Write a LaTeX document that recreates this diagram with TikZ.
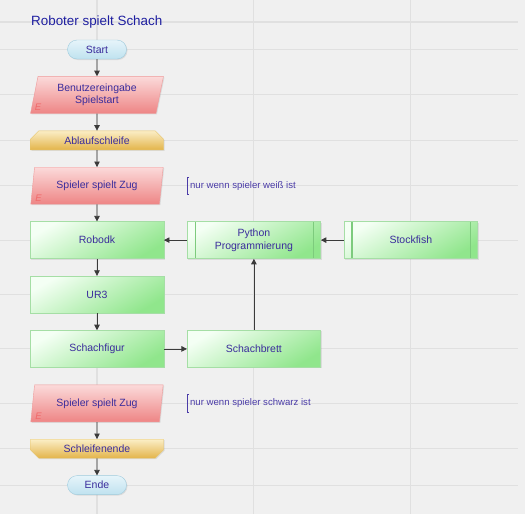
\documentclass[tikz,border=0pt]{standalone}
\usepackage{fontspec}
\setmainfont{Liberation Sans}
\usetikzlibrary{positioning, arrows.meta, shapes.geometric, shapes.misc, backgrounds, shadows}

\definecolor{txtcol}{HTML}{3A2C9C}
\definecolor{titlecol}{HTML}{1E1EA0}
\definecolor{notecol}{HTML}{4B3CA8}
\definecolor{arrowcol}{HTML}{3A3A3A}
\definecolor{gridcol}{HTML}{E0E0E0}
\definecolor{bgcol}{HTML}{F0F0F0}
\definecolor{termtop}{HTML}{E6F4FA}
\definecolor{termbot}{HTML}{BFE2EF}
\definecolor{termline}{HTML}{9FCBDD}
\definecolor{intop}{HTML}{FBDADA}
\definecolor{inbot}{HTML}{EE8585}
\definecolor{inline}{HTML}{EE9A9A}
\definecolor{looptop}{HTML}{FBEEC6}
\definecolor{loopbot}{HTML}{E3B44A}
\definecolor{loopline}{HTML}{E6C46A}
\definecolor{proctop}{HTML}{F4FFF4}
\definecolor{procbot}{HTML}{90E68C}
\definecolor{procline}{HTML}{A5DEA5}
\definecolor{subline}{HTML}{7DCB7D}
\definecolor{emarkcol}{HTML}{F06A6A}

\begin{document}
\begin{tikzpicture}[
			x=1pt, y=1pt,
			node distance=17pt and 23pt,
			base/.style={font=\fontsize{10.5}{12.5}\selectfont, text=txtcol, align=center, inner sep=1pt,
				drop shadow={shadow xshift=1pt, shadow yshift=-1pt, opacity=0.18}},
			terminal/.style={base, rounded rectangle, minimum width=61pt, minimum height=19pt,
				draw=termline, top color=termtop, bottom color=termbot},
			inout/.style={base, trapezium, trapezium left angle=78, trapezium right angle=102,
				trapezium stretches=true, minimum width=133pt, minimum height=37pt,
				draw=inline, top color=intop, bottom color=inbot,
				append after command={node[emark] at ([xshift=3.5pt,yshift=1.5pt]\tikzlastnode.bottom left corner) {E}}},
			emark/.style={anchor=south west, inner sep=1pt, text=emarkcol,
				font=\fontsize{9.5}{9.5}\selectfont\itshape},
			loopbegin/.style={base, chamfered rectangle, chamfered rectangle corners={north west, north east},
				chamfered rectangle xsep=9pt, minimum width=133pt, minimum height=19pt,
				draw=loopline, top color=looptop, bottom color=loopbot},
			loopend/.style={loopbegin, chamfered rectangle corners={south west, south east}},
			process/.style={base, rectangle, minimum width=133.5pt, minimum height=37pt,
				draw=procline, top color=proctop, bottom color=procbot, shading angle=30},
			subproc/.style={process, path picture={
				\draw[subline, line width=1.2pt]
					([xshift=8pt]path picture bounding box.north west) -- ([xshift=8pt]path picture bounding box.south west)
					([xshift=-7pt]path picture bounding box.north east) -- ([xshift=-7pt]path picture bounding box.south east);}},
			note/.style={font=\fontsize{9.6}{11}\selectfont, text=notecol, anchor=west, inner sep=0pt,
				inner xsep=3pt, minimum height=18pt, path picture={
				\draw[notecol, line width=0.8pt]
					([xshift=2pt,yshift=-0.4pt]path picture bounding box.north west) -- ([xshift=0.4pt,yshift=-0.4pt]path picture bounding box.north west)
					-- ([xshift=0.4pt,yshift=0.4pt]path picture bounding box.south west) -- ([xshift=2pt,yshift=0.4pt]path picture bounding box.south west);}},
			title/.style={font=\fontsize{13.4}{15}\selectfont, text=titlecol, anchor=west, inner sep=0pt},
			arrow/.style={-{Triangle[length=5.5pt,width=5.5pt]}, draw=arrowcol, line width=0.8pt},
			gridline/.style={draw=gridcol, line width=1.1pt}
			]
			\useasboundingbox (0,0) rectangle (525,-514);

			% Title
			\node[title] (title) at (31,-22) {Roboter spielt Schach};

			% Main column
			\node[terminal] (start) at (97,-49.5) {Start};
			\node[inout, below=of start] (eingabe) {Benutzereingabe\\Spielstart};
			\node[loopbegin, below=of eingabe] (schleife) {Ablaufschleife};
			\node[inout, below=of schleife] (zugweiss) {Spieler spielt Zug};
			\node[process, below=of zugweiss] (robodk) {Robodk};
			\node[process, below=of robodk] (ur3) {UR3};
			\node[process, below=of ur3] (figur) {Schachfigur};
			\node[inout, below=of figur] (zugschwarz) {Spieler spielt Zug};
			\node[loopend, below=of zugschwarz] (ende_schleife) {Schleifenende};
			\node[terminal, below=of ende_schleife] (ende) {Ende};

			% Right side
			\node[subproc, right=of robodk] (python) {Python\\Programmierung};
			\node[subproc, right=of python] (stockfish) {Stockfish};
			\node[process, right=of figur] (brett) {Schachbrett};

			% Notes
			\node[note] (note_weiss) at (zugweiss -| python.west) {nur wenn spieler weiß ist};
			\node[note] (note_schwarz) at (zugschwarz -| brett.west) {nur wenn spieler schwarz ist};

			% Grid
			\begin{scope}[on background layer]
				\fill[bgcol] (0,0) rectangle (525,-514);
				\coordinate (gl) at (0,0);
				\coordinate (gr) at (518,0);
				\coordinate (gt) at (0,0);
				\coordinate (gb) at (0,-514);
				\foreach \n in {title, start, eingabe, schleife, zugweiss, robodk, ur3, figur, zugschwarz, ende_schleife, ende}
					\draw[gridline] (gl |- \n.west) -- (gr |- \n.west);
				\foreach \n in {start, python, stockfish}
					\draw[gridline] (gt -| \n.center) -- (gb -| \n.center);
			\end{scope}

			% Connections
			\draw[arrow] (start) -- (eingabe);
			\draw[arrow] (eingabe) -- (schleife);
			\draw[arrow] (schleife) -- (zugweiss);
			\draw[arrow] (zugweiss) -- (robodk);
			\draw[arrow] (robodk) -- (ur3);
			\draw[arrow] (ur3) -- (figur);
			\draw[arrow] (figur) -- (brett);
			\draw[arrow] (brett) -- (python);
			\draw[arrow] (python) -- (robodk);
			\draw[arrow] (stockfish) -- (python);
			\draw[arrow] (zugschwarz) -- (ende_schleife);
			\draw[arrow] (ende_schleife) -- (ende);

		\end{tikzpicture}
\end{document}
